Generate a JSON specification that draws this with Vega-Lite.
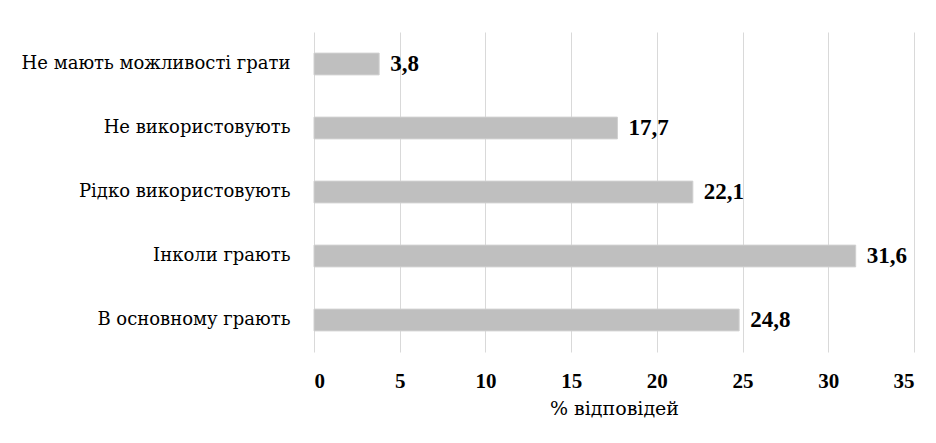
{
  "$schema": "https://vega.github.io/schema/vega-lite/v6.json",
  "autosize": "none",
  "width": 600,
  "height": 320,
  "padding": {"left": 314, "top": 32, "right": 22, "bottom": 91},
  "background": "white",
  "config": {
    "locale": {"number": {"decimal": ",", "thousands": " ", "grouping": [3], "currency": ["", ""]}},
    "font": "Liberation Serif",
    "view": {"stroke": null}
  },
  "data": {
    "values": [
      {"category": "Не мають можливості грати", "value": 3.8},
      {"category": "Не використовують", "value": 17.7},
      {"category": "Рідко використовують ", "value": 22.1},
      {"category": "Інколи грають", "value": 31.6},
      {"category": "В основному грають", "value": 24.8}
    ]
  },
  "encoding": {
    "y": {
      "field": "category",
      "type": "nominal",
      "sort": null,
      "scale": {"paddingInner": 0.66, "paddingOuter": 0.33},
      "axis": {
        "title": null,
        "ticks": false,
        "domain": false,
        "grid": false,
        "labelFont": "DejaVu Serif",
        "labelFontSize": 18,
        "labelFontWeight": "normal",
        "labelColor": "#000000",
        "labelPadding": 24,
        "labelLimit": 400
      }
    },
    "x": {
      "field": "value",
      "type": "quantitative",
      "scale": {"domain": [0, 35], "nice": false},
      "axis": {
        "values": [0, 5, 10, 15, 20, 25, 30, 35],
        "title": "% відповідей",
        "titleFont": "DejaVu Serif",
        "titleFontSize": 19,
        "titleFontWeight": "normal",
        "titleColor": "#000000",
        "titlePadding": 8,
        "ticks": false,
        "tickSize": 0,
        "domain": false,
        "grid": true,
        "gridColor": "#D9D9D9",
        "gridWidth": 1,
        "labelFont": "Liberation Serif",
        "labelFontSize": 21,
        "labelFontWeight": "bold",
        "labelColor": "#000000",
        "labelPadding": 18
      }
    }
  },
  "layer": [
    {"mark": {"type": "bar", "color": "#BFBFBF", "stroke": "#D0D0D0", "strokeWidth": 1}},
    {
      "mark": {"type": "text", "align": "left", "baseline": "middle", "dx": 11, "font": "Liberation Serif", "fontSize": 23, "fontWeight": "bold", "color": "#000000"},
      "encoding": {"text": {"field": "value", "type": "quantitative", "format": ".1f"}}
    }
  ]
}
